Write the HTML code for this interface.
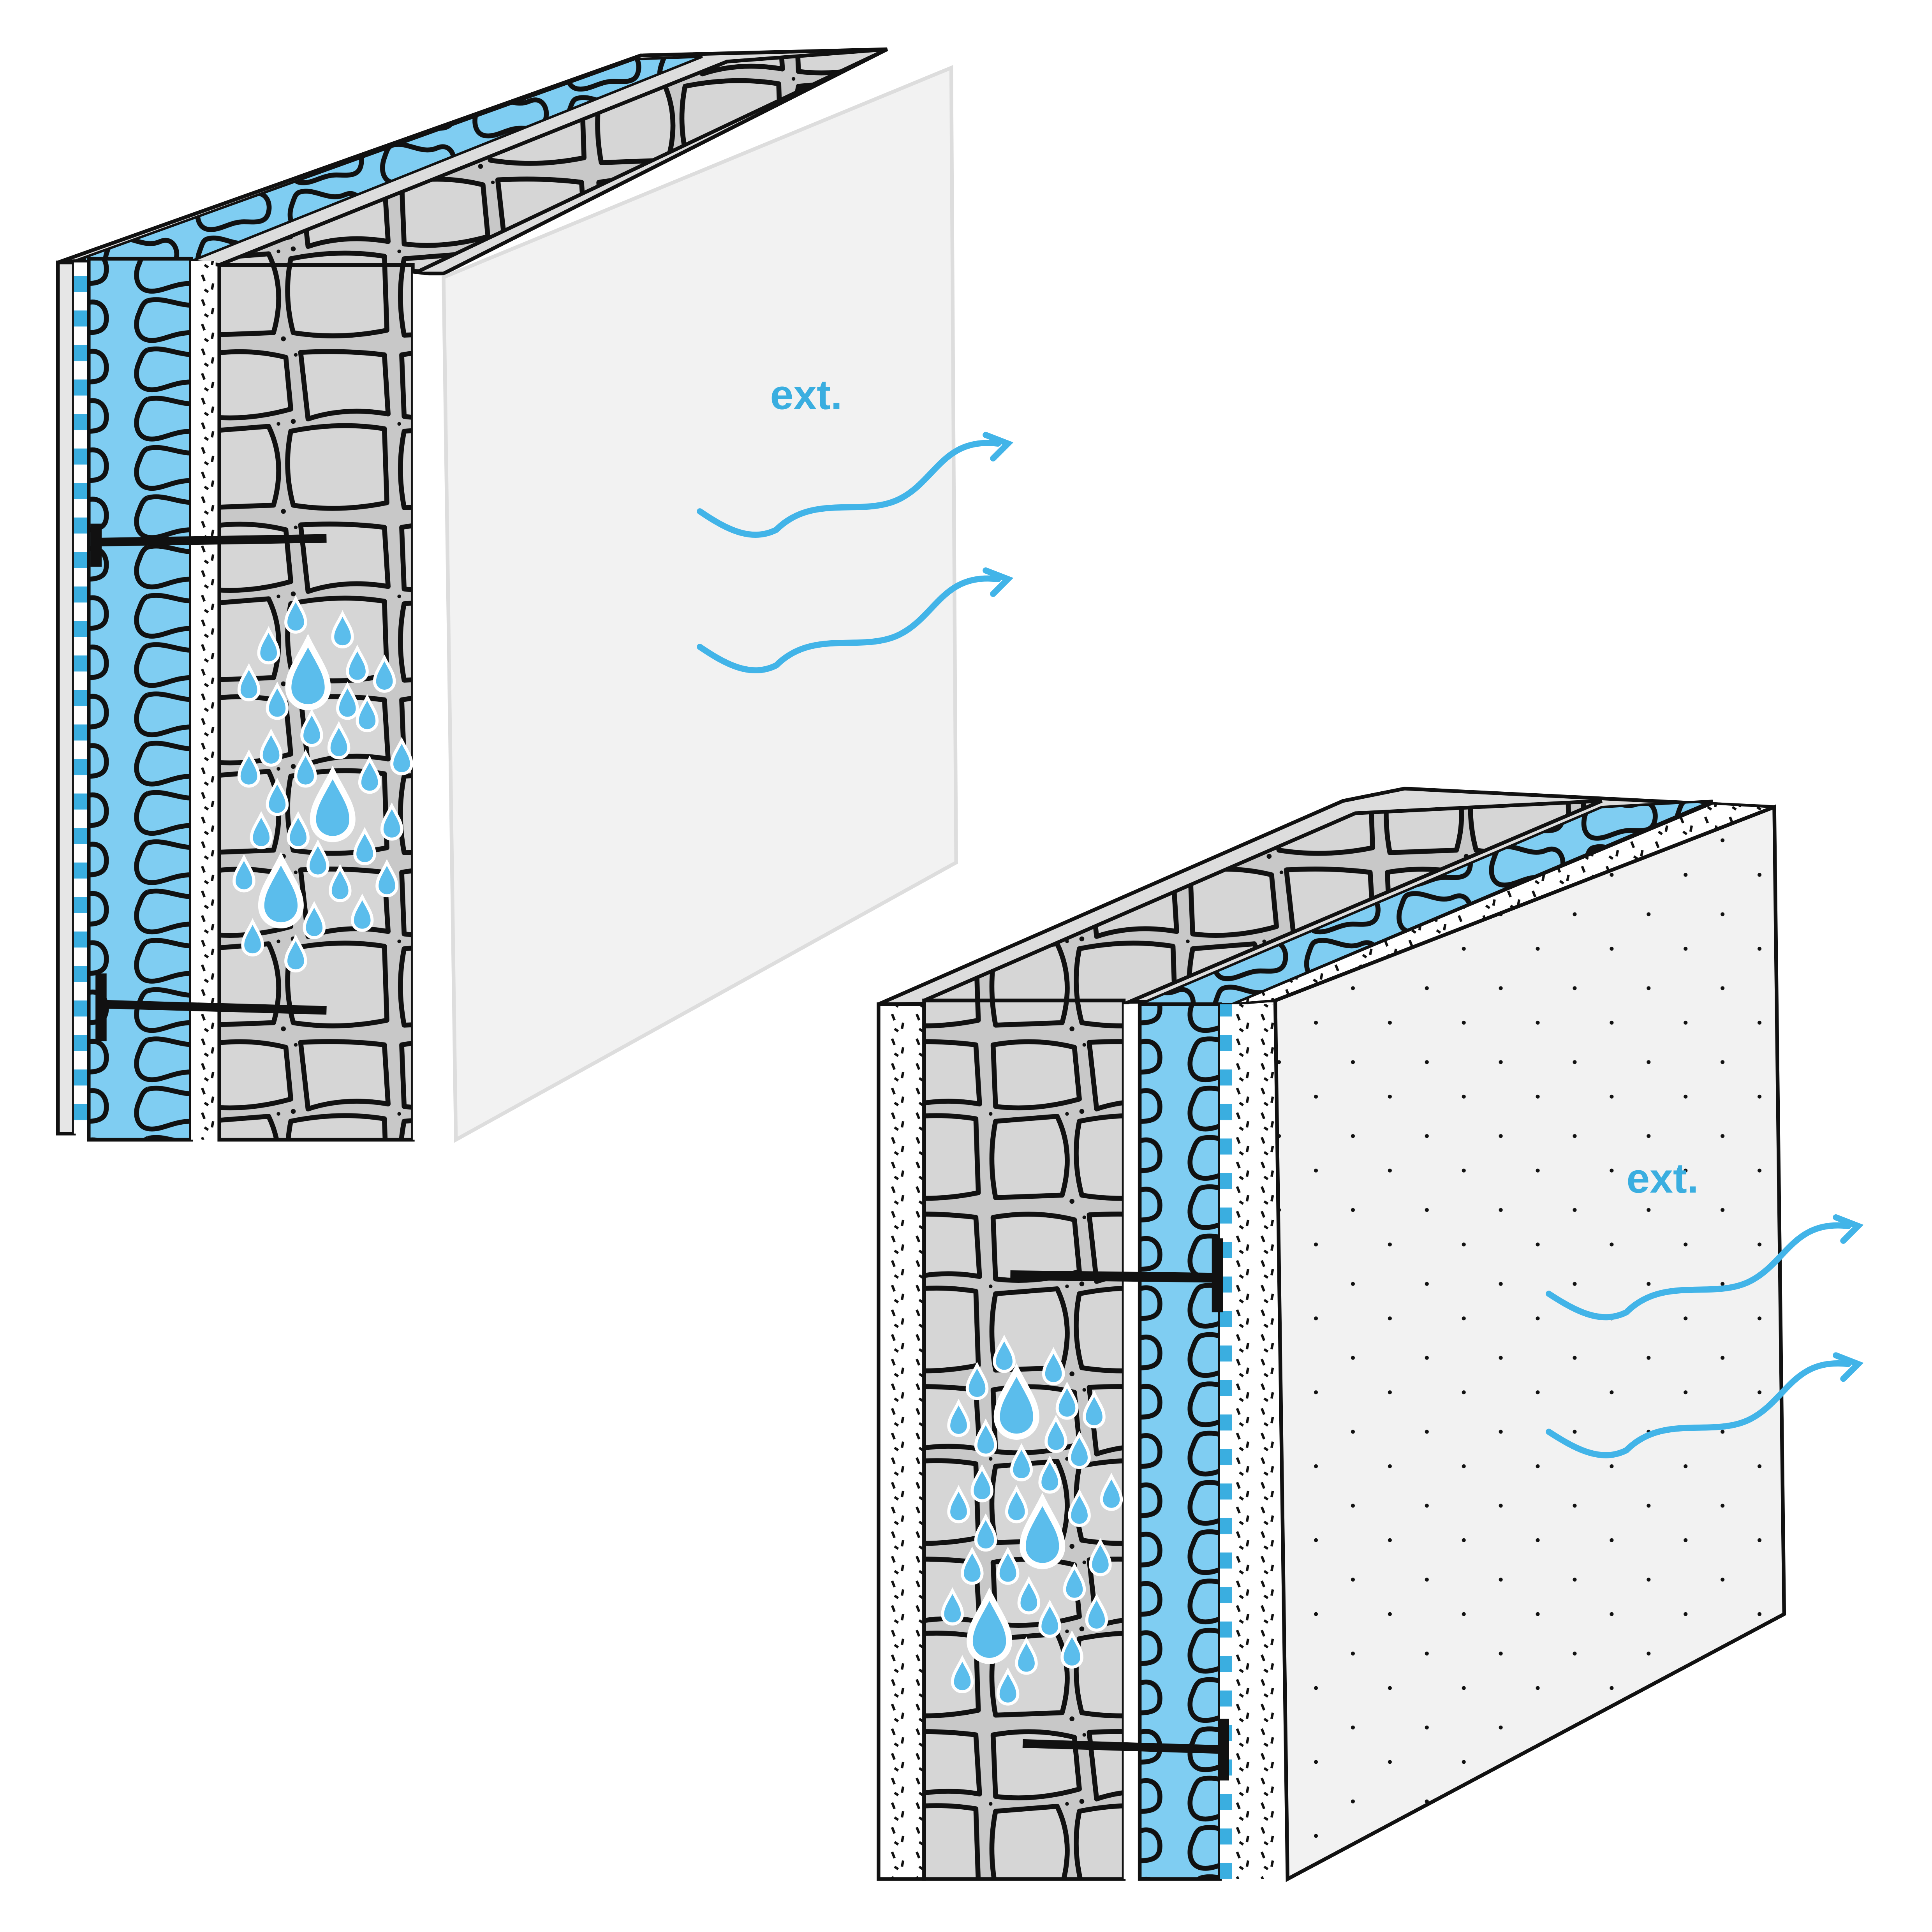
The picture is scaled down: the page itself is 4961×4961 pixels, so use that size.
<!DOCTYPE html>
<html><head><meta charset="utf-8"><style>html,body{margin:0;padding:0;background:#fff}svg{display:block}</style></head>
<body>
<svg width="4961" height="4961" viewBox="0 0 1568 1568" xmlns="http://www.w3.org/2000/svg">
<defs>
<pattern id="ins" width="95" height="40" patternUnits="userSpaceOnUse">
<rect width="95" height="40" fill="#7fcdf2"/>
<path d="M25,4 C40,0 55,12 70,6 C82,2 88,12 86,22 C84,32 70,30 60,30 C45,30 35,38 25,36 C15,34 14,22 18,14 C20,8 22,5 25,4" fill="none" stroke="#111" stroke-width="4"/>
</pattern>
<pattern id="ins2" width="75" height="38" patternUnits="userSpaceOnUse">
<rect width="75" height="38" fill="#7fcdf2"/>
<path d="M18,4 C30,0 42,12 55,6 C65,2 70,12 68,20 C66,30 56,28 48,28 C36,28 28,36 18,34 C10,32 9,22 12,14 C14,8 15,5 18,4" fill="none" stroke="#111" stroke-width="4"/>
</pattern>
<pattern id="stone" width="160" height="140" patternUnits="userSpaceOnUse">
<rect width="160" height="140" fill="#c8c8c8"/>
<g fill="#d6d6d6" stroke="#111" stroke-width="4" stroke-linejoin="round">
<path d="M6,8 Q40,2 72,10 L76,52 Q40,62 8,58 Z"/>
<path d="M84,6 Q120,4 152,8 L155,56 Q120,50 90,60 Z"/>
<path d="M8,70 L58,66 Q72,95 62,130 L8,132 Q2,100 8,70 Z"/>
<path d="M76,70 Q115,62 152,68 L154,128 Q115,136 78,130 Q70,100 76,70 Z"/>
</g>
<g fill="#111"><circle cx="78" cy="62" r="2"/><circle cx="66" cy="64" r="1.5"/><circle cx="80" cy="8" r="1.5"/><circle cx="70" cy="135" r="2"/><circle cx="4" cy="64" r="1.5"/></g>
</pattern>
<pattern id="dots" width="20" height="20" patternUnits="userSpaceOnUse">
<rect width="20" height="20" fill="#fff"/>
<path d="M4,3 l2,5 M13,10 l-1,5 M6,15 l3,2" stroke="#111" stroke-width="2"/>
</pattern>
<pattern id="stripe" width="10" height="28" patternUnits="userSpaceOnUse">
<rect width="10" height="28" fill="#fff"/><rect y="0" width="10" height="13" fill="#3aaee0"/>
</pattern>
<pattern id="fdots" width="60" height="60" patternUnits="userSpaceOnUse">
<rect width="60" height="60" fill="#f2f2f2"/><circle cx="18" cy="22" r="1.6" fill="#111"/><circle cx="48" cy="50" r="1.6" fill="#111"/>
</pattern>
<path id="drop" d="M0,-14 C4,-6 8,-1 8,5 C8,10 4,13 0,13 C-4,13 -8,10 -8,5 C-8,-1 -4,-6 0,-14 Z" fill="#5bbdec" stroke="#fff" stroke-width="2.5"/>
</defs>

<!-- TOP LEFT WALL -->
<polygon points="47,213 520,45 720,40 360,222 335,222 178,215 155,212 60,212" fill="#ddd" stroke="#111" stroke-width="3"/>
<polygon points="60,212 515,48 570,46 155,212" fill="url(#ins2)" stroke="#111" stroke-width="2"/>
<polygon points="178,215 590,50 720,40 340,220" fill="url(#stone)" stroke="#111" stroke-width="3"/>
<rect x="47" y="213" width="13" height="707" fill="#e6e6e6" stroke="#111" stroke-width="3"/>
<rect x="60" y="213" width="12" height="707" fill="url(#stripe)"/>
<rect x="72" y="210" width="83" height="715" fill="url(#ins)" stroke="#111" stroke-width="3"/>
<rect x="155" y="212" width="20" height="713" fill="url(#dots)"/>
<rect x="178" y="215" width="157" height="710" fill="url(#stone)" stroke="#111" stroke-width="3"/>
<polygon points="360,225 775,55 778,700 370,925 335,925 335,222" fill="#fff"/>
<polygon points="360,225 772,55 776,700 370,925" fill="#f2f2f2" stroke="#ddd" stroke-width="3"/>
<path d="M78,440 L265,437" stroke="#111" stroke-width="7"/>
<path d="M78,425 L78,460" stroke="#111" stroke-width="9"/>
<path d="M82,815 L265,820" stroke="#111" stroke-width="7"/>
<path d="M82,790 L82,845" stroke="#111" stroke-width="9"/>
<g>
<use href="#drop" transform="translate(250,548) scale(2)"/>
<use href="#drop" transform="translate(270,655) scale(2)"/>
<use href="#drop" transform="translate(228,725) scale(2)"/>
<use href="#drop" transform="translate(240,500)"/><use href="#drop" transform="translate(218,525)"/><use href="#drop" transform="translate(278,512)"/>
<use href="#drop" transform="translate(202,555)"/><use href="#drop" transform="translate(290,540)"/><use href="#drop" transform="translate(312,548)"/>
<use href="#drop" transform="translate(225,570)"/><use href="#drop" transform="translate(282,570)"/><use href="#drop" transform="translate(298,580)"/>
<use href="#drop" transform="translate(253,592)"/><use href="#drop" transform="translate(220,608)"/><use href="#drop" transform="translate(275,602)"/>
<use href="#drop" transform="translate(248,625)"/><use href="#drop" transform="translate(202,625)"/><use href="#drop" transform="translate(300,630)"/>
<use href="#drop" transform="translate(326,615)"/><use href="#drop" transform="translate(225,648)"/><use href="#drop" transform="translate(318,668)"/>
<use href="#drop" transform="translate(212,675)"/><use href="#drop" transform="translate(242,675)"/><use href="#drop" transform="translate(296,688)"/>
<use href="#drop" transform="translate(198,710)"/><use href="#drop" transform="translate(258,698)"/><use href="#drop" transform="translate(276,718)"/>
<use href="#drop" transform="translate(314,714)"/><use href="#drop" transform="translate(255,748)"/><use href="#drop" transform="translate(294,742)"/>
<use href="#drop" transform="translate(205,762)"/><use href="#drop" transform="translate(240,775)"/>
</g>
<text x="625" y="332" font-family="Liberation Sans, sans-serif" font-weight="bold" font-size="34" fill="#3aaee0">ext.</text>
<g fill="none" stroke="#42b4e8" stroke-width="5" stroke-linecap="round">
<path d="M568,415 C590,430 610,440 630,430 C660,400 700,420 730,405 C760,390 765,355 810,360"/>
<path d="M800,353 L818,360 L806,372"/>
<path d="M568,525 C590,540 610,550 630,540 C660,510 700,530 730,515 C760,500 765,465 810,470"/>
<path d="M800,463 L818,470 L806,482"/>
</g>

<!-- BOTTOM RIGHT WALL -->
<polygon points="713,815 1090,650 1140,640 1440,655 1035,812" fill="#ddd" stroke="#111" stroke-width="3"/>
<polygon points="750,812 1100,660 1300,650 912,815" fill="url(#stone)" stroke="#111" stroke-width="3"/>
<polygon points="925,815 1300,655 1390,650 1000,815" fill="url(#ins2)" stroke="#111" stroke-width="2"/>
<polygon points="1000,815 1390,652 1440,655 1035,812" fill="url(#dots)" stroke="#111" stroke-width="2"/>
<rect x="713" y="815" width="37" height="710" fill="url(#dots)" stroke="#111" stroke-width="3"/>
<rect x="750" y="812" width="162" height="713" fill="url(#stone)" stroke="#111" stroke-width="3"/>
<rect x="912" y="815" width="13" height="710" fill="#fff"/>
<rect x="925" y="815" width="65" height="710" fill="url(#ins)" stroke="#111" stroke-width="3"/>
<rect x="990" y="815" width="10" height="710" fill="url(#stripe)"/>
<rect x="1000" y="815" width="35" height="710" fill="url(#dots)"/>
<polygon points="1035,812 1440,655 1448,1310 1045,1525" fill="url(#fdots)" stroke="#111" stroke-width="3"/>
<path d="M820,1035 L990,1037" stroke="#111" stroke-width="8"/>
<path d="M988,1005 L988,1065" stroke="#111" stroke-width="9"/>
<path d="M830,1415 L995,1420" stroke="#111" stroke-width="7"/>
<path d="M993,1395 L993,1445" stroke="#111" stroke-width="9"/>
<g>
<use href="#drop" transform="translate(825,1140) scale(2)"/>
<use href="#drop" transform="translate(846,1245) scale(2)"/>
<use href="#drop" transform="translate(803,1322) scale(2)"/>
<use href="#drop" transform="translate(815,1100)"/><use href="#drop" transform="translate(793,1122)"/><use href="#drop" transform="translate(855,1110)"/>
<use href="#drop" transform="translate(778,1152)"/><use href="#drop" transform="translate(866,1138)"/><use href="#drop" transform="translate(888,1145)"/>
<use href="#drop" transform="translate(800,1168)"/><use href="#drop" transform="translate(857,1165)"/><use href="#drop" transform="translate(876,1178)"/>
<use href="#drop" transform="translate(829,1188)"/><use href="#drop" transform="translate(797,1205)"/><use href="#drop" transform="translate(852,1198)"/>
<use href="#drop" transform="translate(825,1222)"/><use href="#drop" transform="translate(778,1222)"/><use href="#drop" transform="translate(876,1225)"/>
<use href="#drop" transform="translate(902,1212)"/><use href="#drop" transform="translate(800,1245)"/><use href="#drop" transform="translate(893,1265)"/>
<use href="#drop" transform="translate(789,1272)"/><use href="#drop" transform="translate(818,1272)"/><use href="#drop" transform="translate(872,1285)"/>
<use href="#drop" transform="translate(773,1305)"/><use href="#drop" transform="translate(835,1296)"/><use href="#drop" transform="translate(852,1315)"/>
<use href="#drop" transform="translate(890,1310)"/><use href="#drop" transform="translate(833,1345)"/><use href="#drop" transform="translate(870,1340)"/>
<use href="#drop" transform="translate(781,1360)"/><use href="#drop" transform="translate(818,1370)"/>
</g>
<text x="1320" y="968" font-family="Liberation Sans, sans-serif" font-weight="bold" font-size="34" fill="#3aaee0">ext.</text>
<g fill="none" stroke="#42b4e8" stroke-width="5" stroke-linecap="round">
<path d="M1257,1050 C1280,1065 1300,1075 1320,1065 C1350,1035 1390,1055 1420,1040 C1450,1025 1455,990 1500,995"/>
<path d="M1490,988 L1508,995 L1496,1007"/>
<path d="M1257,1162 C1280,1177 1300,1187 1320,1177 C1350,1147 1390,1167 1420,1152 C1450,1137 1455,1102 1500,1107"/>
<path d="M1490,1100 L1508,1107 L1496,1119"/>
</g>
</svg>
</body></html>
